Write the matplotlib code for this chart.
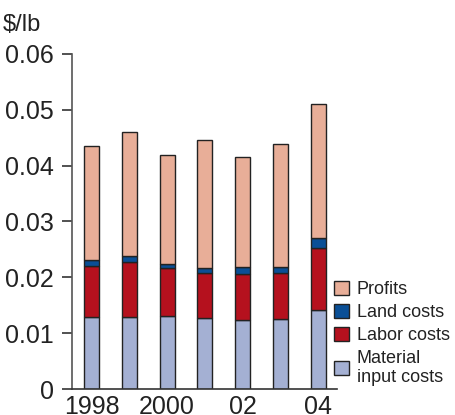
import numpy as np
import matplotlib.pyplot as plt
from matplotlib.patches import Patch

plt.rcParams['font.family'] = ['Liberation Sans', 'DejaVu Sans']

# values ($/lb)
years = ['1998', '1999', '2000', '2001', '02', '2003', '04']
tick_labels = ['1998', '', '2000', '', '02', '', '04']
material = [0.0129, 0.0129, 0.0131, 0.0127, 0.0124, 0.0126, 0.0141]
labor = [0.0092, 0.0099, 0.0085, 0.0081, 0.0082, 0.0082, 0.0112]
land = [0.0010, 0.0011, 0.0008, 0.0008, 0.0012, 0.0010, 0.0018]
totals = [0.0436, 0.0461, 0.0419, 0.0446, 0.0415, 0.0439, 0.0510]

profits = np.array(totals) - np.array(material) - np.array(labor) - np.array(land)

c_mat = '#a4b0d3'
c_lab = '#b5111e'
c_land = '#0a4f96'
c_prof = '#e8ae98'
edge = '#222222'

fig = plt.figure(figsize=(4.55, 4.15), dpi=100)
ax = fig.add_axes([72/455, 1-389/415, (337-72)/455, (389-54)/415])

x = np.arange(len(years))
w = 0.4
b1 = np.array(material)
b2 = b1 + np.array(labor)
b3 = b2 + np.array(land)
ax.bar(x, material, w, color=c_mat, edgecolor=edge, linewidth=1)
ax.bar(x, labor, w, bottom=b1, color=c_lab, edgecolor=edge, linewidth=1)
ax.bar(x, land, w, bottom=b2, color=c_land, edgecolor=edge, linewidth=1)
ax.bar(x, profits, w, bottom=b3, color=c_prof, edgecolor=edge, linewidth=1)

ax.set_xlim(-0.52, 6.5)
ax.set_ylim(0, 0.06)
ax.set_yticks([0, 0.01, 0.02, 0.03, 0.04, 0.05, 0.06])
ax.set_yticklabels(['0', '0.01', '0.02', '0.03', '0.04', '0.05', '0.06'])
ax.set_xticks(x)
ax.set_xticklabels(tick_labels)

for s in ['top', 'right']:
    ax.spines[s].set_visible(False)
ax.spines['left'].set_color('#555555')
ax.spines['bottom'].set_color('#333333')
ax.spines['left'].set_linewidth(1.2)
ax.spines['bottom'].set_linewidth(1.2)
ax.tick_params(axis='y', length=7, width=1.2, color='#333333', labelsize=18, pad=6, labelcolor='#222222')
ax.tick_params(axis='x', length=0, labelsize=18, pad=4, labelcolor='#222222')

fig.text(3/455, 1-31/415, '$/lb', fontsize=17, color='#222222')

handles = [Patch(facecolor=c_prof, edgecolor=edge),
           Patch(facecolor=c_land, edgecolor=edge),
           Patch(facecolor=c_lab, edgecolor=edge),
           Patch(facecolor=c_mat, edgecolor=edge)]
labels = ['Profits', 'Land costs', 'Labor costs', 'Material\ninput costs']
leg = fig.legend(handles, labels, loc='upper left', bbox_to_anchor=(334/455, 1-281/415),
                 frameon=False, fontsize=13, borderpad=0, borderaxespad=0,
                 handlelength=0.85, handleheight=0.85, handletextpad=0.4,
                 labelspacing=0.3)
for t in leg.get_texts():
    t.set_color('#222222')

fig.savefig('out.png', dpi=100)
